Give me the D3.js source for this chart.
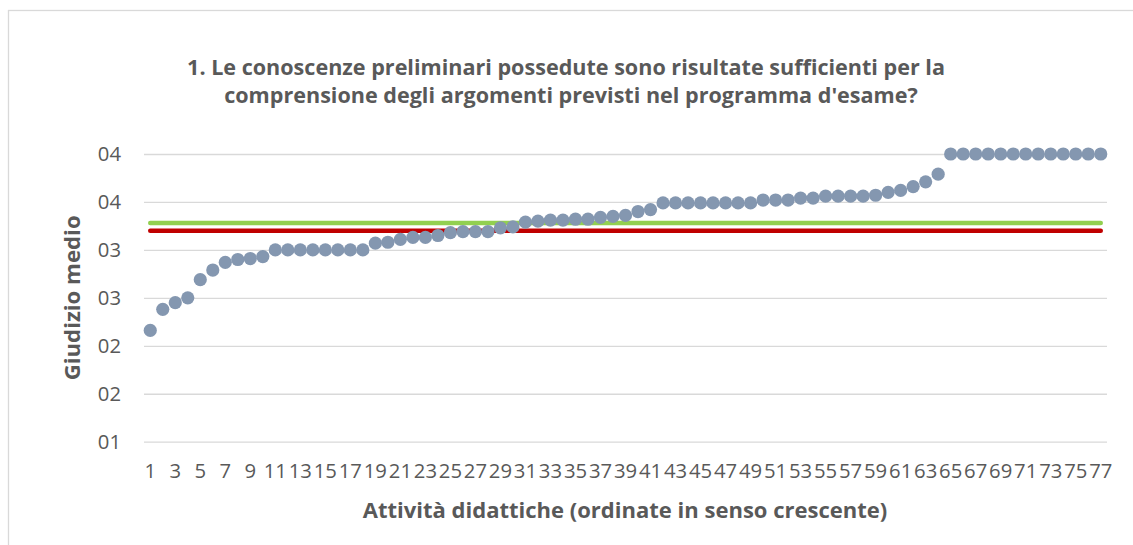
<!DOCTYPE html>
<html>
<head>
<meta charset="utf-8">
<script src="https://cdn.jsdelivr.net/npm/d3@7"></script>
<style>
  html, body { margin: 0; padding: 0; background: #ffffff; }
  svg { display: block; }
</style>
</head>
<body>
<svg id="chart" width="1133" height="545"></svg>
<script>
// ---- Data ----
const categories = [
  1,2,3,4,5,6,7,8,9,10,11,12,13,14,15,16,17,18,19,20,
  21,22,23,24,25,26,27,28,29,30,31,32,33,34,35,36,37,38,39,40,
  41,42,43,44,45,46,47,48,49,50,51,52,53,54,55,56,57,58,59,60,
  61,62,63,64,65,66,67,68,69,70,71,72,73,74,75,76,77
];
const giudizio = [
  2.16, 2.38, 2.45, 2.50, 2.69, 2.79, 2.87, 2.90, 2.91, 2.93,
  3.00, 3.00, 3.00, 3.00, 3.00, 3.00, 3.00, 3.00, 3.07, 3.08,
  3.11, 3.13, 3.13, 3.15, 3.18, 3.19, 3.19, 3.19, 3.23, 3.24,
  3.29, 3.30, 3.31, 3.31, 3.32, 3.32, 3.34, 3.35, 3.36, 3.40,
  3.42, 3.49, 3.49, 3.49, 3.49, 3.49, 3.49, 3.49, 3.49, 3.52,
  3.52, 3.52, 3.54, 3.54, 3.56, 3.56, 3.56, 3.56, 3.57, 3.60,
  3.62, 3.66, 3.71, 3.79, 4.00, 4.00, 4.00, 4.00, 4.00, 4.00,
  4.00, 4.00, 4.00, 4.00, 4.00, 4.00, 4.00
];
const mediaVerde = 3.28;
const mediaRossa = 3.20;
const yTickValues = [1, 1.5, 2, 2.5, 3, 3.5, 4];
const yTickLabels = ["01", "02", "02", "03", "03", "04", "04"];
const xTickLabels = categories.filter((d, i) => i % 2 === 0).map(String);

const titleLines = [
  "1. Le conoscenze preliminari possedute sono risultate sufficienti per la",
  "comprensione degli argomenti previsti nel programma d'esame?"
];
const yTitle = "Giudizio medio";
const xTitle = "Attività didattiche (ordinate in senso crescente)";

// ---- Layout ----
const svg = d3.select("#chart");
const textColor = "#595959";
const gridColor = "#D9D9D9";
const fontFamily = "'Open Sans', 'Liberation Sans', Arial, sans-serif";

const plot = { left: 144, right: 1107, top: 154, bottom: 441.7 };

// scale a text's font-size so its rendered width matches a target width
function fitWidth(sel, target, base) {
  sel.style("font-size", base + "px");
  const w = sel.node().getComputedTextLength();
  sel.style("font-size", (base * target / w).toFixed(2) + "px");
}

// chart border
svg.append("rect")
  .attr("x", 8.5).attr("y", 10.5)
  .attr("width", 1200).attr("height", 600)
  .attr("fill", "none")
  .attr("stroke", gridColor)
  .attr("stroke-width", 1.3);

const x = d3.scaleBand()
  .domain(categories)
  .range([plot.left, plot.right])
  .paddingInner(0).paddingOuter(0);

const y = d3.scaleLinear()
  .domain([1, 4])
  .range([plot.bottom, plot.top]);

// tick font size: two digits ~23.4px wide
const probe = svg.append("text").style("font-family", fontFamily).text("00");
fitWidth(probe, 23.2, 20);
const tickFont = probe.style("font-size");
probe.remove();

// gridlines + y axis
const yAxis = d3.axisLeft(y)
  .tickValues(yTickValues)
  .tickFormat((d, i) => yTickLabels[i])
  .tickSize(-(plot.right - plot.left))
  .tickPadding(23);

const gy = svg.append("g")
  .attr("transform", `translate(${plot.left},0)`)
  .call(yAxis);
gy.select(".domain").remove();
gy.selectAll(".tick line")
  .attr("stroke", gridColor)
  .attr("stroke-width", 1.3);
gy.selectAll(".tick text")
  .attr("fill", textColor)
  .style("font-family", fontFamily)
  .style("font-size", tickFont);

// x axis
const xAxis = d3.axisBottom(x)
  .tickValues(categories.filter((d, i) => i % 2 === 0))
  .tickFormat((d) => xTickLabels[categories.indexOf(d) / 2])
  .tickSize(0)
  .tickPadding(22);

const gx = svg.append("g")
  .attr("transform", `translate(0,${plot.bottom})`)
  .call(xAxis);
gx.select(".domain").remove();
gx.selectAll(".tick text")
  .attr("fill", textColor)
  .style("font-family", fontFamily)
  .style("font-size", tickFont);

// average lines
const xFirst = x(categories[0]) + x.bandwidth() / 2;
const xLast = x(categories[categories.length - 1]) + x.bandwidth() / 2;

svg.append("line")
  .attr("x1", xFirst).attr("x2", xLast)
  .attr("y1", y(mediaVerde)).attr("y2", y(mediaVerde))
  .attr("stroke", "#92D050")
  .attr("stroke-width", 4.5)
  .attr("stroke-linecap", "round");

svg.append("line")
  .attr("x1", xFirst).attr("x2", xLast)
  .attr("y1", y(mediaRossa)).attr("y2", y(mediaRossa))
  .attr("stroke", "#C00000")
  .attr("stroke-width", 4.5)
  .attr("stroke-linecap", "round");

// points
svg.append("g")
  .selectAll("circle")
  .data(giudizio)
  .join("circle")
  .attr("cx", (d, i) => x(categories[i]) + x.bandwidth() / 2)
  .attr("cy", d => y(d))
  .attr("r", 6.6)
  .attr("fill", "#8497B0");

// title
const title = svg.append("text")
  .attr("text-anchor", "middle")
  .attr("fill", textColor)
  .style("font-family", fontFamily)
  .style("font-weight", "bold");
const t1 = title.append("tspan").attr("x", 566).attr("y", 75).text(titleLines[0]);
fitWidth(title, 1, 1); // placeholder reset
title.style("font-size", "18px");
const w1 = t1.node().getComputedTextLength();
title.style("font-size", (18 * 758 / w1).toFixed(2) + "px");
title.append("tspan").attr("x", 571).attr("y", 103).text(titleLines[1]);

// y title
const yt = svg.append("text")
  .attr("transform", `translate(80,${(plot.top + plot.bottom) / 2}) rotate(-90)`)
  .attr("text-anchor", "middle")
  .attr("fill", textColor)
  .style("font-family", fontFamily)
  .style("font-weight", "bold")
  .text(yTitle);
fitWidth(yt, 165, 18);

// x title
const xt = svg.append("text")
  .attr("x", 625)
  .attr("y", 518)
  .attr("text-anchor", "middle")
  .attr("fill", textColor)
  .style("font-family", fontFamily)
  .style("font-weight", "bold")
  .text(xTitle);
fitWidth(xt, 525, 18);
</script>
</body>
</html>
